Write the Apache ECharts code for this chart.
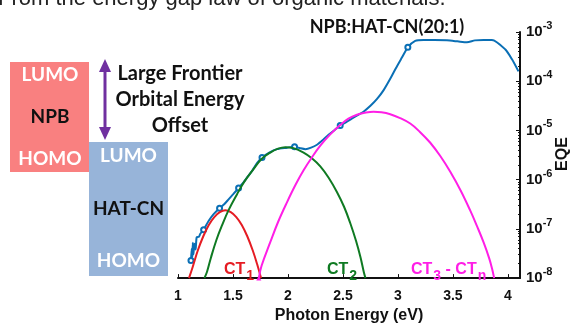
<!DOCTYPE html>
<html><head><meta charset="utf-8">
<script src="https://cdn.jsdelivr.net/npm/echarts@6/dist/echarts.min.js"></script>
<style>html,body{margin:0;padding:0;background:#fff;overflow:hidden}#c{width:571px;height:329px}</style>
</head><body><div id="c"></div>
<script>
// ---- data (photon energy in eV, EQE given as log10 exponent) ----
const blueE   = [1.118,1.125,1.13,1.135,1.14,1.15,1.16,1.17,1.19,1.203,1.233,1.278,1.324,1.378,1.42,1.46,1.50,1.551,1.59,1.627,1.68,1.72,1.764,1.83,1.90,1.991,2.06,2.11,2.16,2.21,2.264,2.32,2.369,2.42,2.475,2.53,2.58,2.635,2.687,2.75,2.81,2.87,2.93,2.98,3.036,3.09,3.157,3.233,3.33,3.445,3.54,3.627,3.70,3.78,3.855,3.975,4.036,4.096];
const blueLog = [-7.64,-7.40,-7.58,-7.28,-7.52,-7.30,-7.42,-7.17,-7.16,-7.10,-7.02,-6.84,-6.70,-6.58,-6.50,-6.40,-6.30,-6.17,-6.07,-5.96,-5.80,-5.66,-5.55,-5.45,-5.38,-5.35,-5.33,-5.36,-5.38,-5.35,-5.29,-5.19,-5.09,-5.00,-4.90,-4.83,-4.76,-4.69,-4.62,-4.50,-4.36,-4.18,-3.95,-3.74,-3.52,-3.31,-3.18,-3.16,-3.16,-3.17,-3.19,-3.21,-3.17,-3.16,-3.16,-3.35,-3.55,-3.80];
const blueMarkE = [1.118,1.233,1.378,1.551,1.764,2.06,2.475,3.09];

const ct1E   = [1.10,1.13,1.18,1.23,1.28,1.33,1.38,1.43,1.48,1.53,1.58,1.63,1.68,1.72,1.755];
const ct1Log = [-8.0,-7.80,-7.44,-7.15,-6.92,-6.76,-6.66,-6.62,-6.66,-6.76,-6.92,-7.15,-7.44,-7.72,-8.0];

const ct2E   = [1.24,1.264,1.30,1.35,1.40,1.46,1.536,1.60,1.688,1.76,1.839,1.91,1.975,2.05,2.142,2.22,2.294,2.37,2.445,2.51,2.566,2.62,2.66,2.69,2.705];
const ct2Log = [-8.0,-7.87,-7.58,-7.22,-6.93,-6.62,-6.30,-6.05,-5.78,-5.58,-5.45,-5.37,-5.34,-5.36,-5.45,-5.57,-5.73,-5.96,-6.25,-6.55,-6.88,-7.25,-7.58,-7.88,-8.0];

const ct3E   = [1.735,1.76,1.839,1.91,1.991,2.07,2.142,2.22,2.294,2.38,2.475,2.55,2.627,2.70,2.778,2.85,2.93,3.02,3.112,3.20,3.294,3.385,3.476,3.57,3.658,3.72,3.78,3.83,3.855,3.875];
const ct3Log = [-8.0,-7.75,-7.27,-6.86,-6.46,-6.10,-5.81,-5.54,-5.31,-5.09,-4.89,-4.76,-4.68,-4.64,-4.62,-4.63,-4.67,-4.75,-4.86,-5.03,-5.25,-5.52,-5.84,-6.22,-6.63,-6.95,-7.28,-7.60,-7.80,-8.0];

const xTickLabels = ['1','1.5','2','2.5','3','3.5','4'];
const yTickExponents = [-8,-7,-6,-5,-4,-3];

// ---- build ----
const toPairs = (E, L) => E.map((e, i) => [e, Math.pow(10, L[i])]);
const blueData = blueE.map((e, i) => {
  const item = { value: [e, Math.pow(10, blueLog[i])] };
  if (blueMarkE.includes(e)) { item.symbol = 'emptyCircle'; item.symbolSize = 5; }
  return item;
});
const ct3Data = toPairs(ct3E, ct3Log);
ct3Data[0] = { value: ct3Data[0], symbol: 'triangle', symbolSize: 5 };

const AX = 'Liberation Sans';
const DG = 'Lato';
const chart = echarts.init(document.getElementById('c'), null, { renderer: 'canvas' });

const subRich = (color) => ({
  m: { fontFamily: AX, fontWeight: 'bold', fontSize: 16, fill: color, lineHeight: 16 },
  s: { fontFamily: AX, fontWeight: 'bold', fontSize: 14, fill: color, padding: [13, 0, 0, 1] }
});
const dText = (x, y, text, size, fill) => ({
  type: 'text', x: x, y: y,
  style: { text: text, fontFamily: DG, fontWeight: 'bold', fontSize: size, fill: fill, textAlign: 'center', textVerticalAlign: 'middle' }
});

chart.setOption({
  animation: false,
  title: {
    text: 'NPB:HAT-CN(20:1)', left: 382, top: 13, textAlign: 'center',
    textStyle: { fontFamily: DG, fontWeight: 'bold', fontSize: 18, color: '#111' }
  },
  grid: { left: 178, right: 51, top: 32, bottom: 42 },
  xAxis: {
    type: 'value', min: 1, max: 4.11, interval: 0.5,
    name: 'Photon Energy (eV)', nameLocation: 'middle', nameGap: 27,
    nameTextStyle: { fontFamily: AX, fontWeight: 'bold', fontSize: 16, color: '#111' },
    axisLine: { show: true, lineStyle: { color: '#111', width: 2 } },
    axisTick: { show: true, inside: true, length: 4, lineStyle: { color: '#111', width: 1 } },
    axisLabel: {
      margin: 11, fontFamily: AX, fontWeight: 'bold', fontSize: 14, color: '#111',
      formatter: (v) => { const i = Math.round((v - 1) / 0.5); return xTickLabels[i] !== undefined && Math.abs(v - (1 + i * 0.5)) < 1e-6 ? xTickLabels[i] : ''; }
    },
    splitLine: { show: false }
  },
  yAxis: {
    type: 'log', logBase: 10, min: 1e-8, max: 1e-3, position: 'right',
    axisLine: { show: true, lineStyle: { color: '#111', width: 2 } },
    axisTick: { show: true, inside: true, length: 4, lineStyle: { color: '#111', width: 1 } },
    minorTick: { show: true, splitNumber: 9, length: 2, lineStyle: { color: '#111', width: 1 } },
    axisLabel: {
      margin: 6, color: '#111',
      formatter: (v) => {
        const e = Math.round(Math.log10(v));
        return yTickExponents.includes(e) ? '{b|10}{s|' + e + '}' : '';
      },
      rich: {
        b: { fontFamily: AX, fontWeight: 'bold', fontSize: 15, color: '#111' },
        s: { fontFamily: AX, fontWeight: 'bold', fontSize: 11, color: '#111', padding: [0, 0, 12, 0] }
      }
    },
    splitLine: { show: false },
    minorSplitLine: { show: false }
  },
  series: [
    { type: 'line', name: 'EQE', data: blueData, symbol: 'none', smooth: 0.25,
      lineStyle: { color: '#0a6fb5', width: 2 }, itemStyle: { color: '#0a6fb5', borderWidth: 1.3 }, z: 2 },
    { type: 'line', name: 'CT1', data: toPairs(ct1E, ct1Log), symbol: 'none', smooth: 0.4,
      lineStyle: { color: '#e51c23', width: 2 }, z: 3 },
    { type: 'line', name: 'CT2', data: toPairs(ct2E, ct2Log), symbol: 'none', smooth: 0.4,
      lineStyle: { color: '#0f7a22', width: 2 }, z: 3 },
    { type: 'line', name: 'CT3-CTn', data: ct3Data, symbol: 'none', smooth: 0.4,
      lineStyle: { color: '#ff1ee6', width: 2 }, itemStyle: { color: '#ff1ee6' }, z: 3 }
  ],
  graphic: [
    // cropped caption at the very top
    { type: 'text', x: -2, y: -1, style: { text: 'From the energy gap law of organic materials.', fontFamily: 'Liberation Sans', fontSize: 22, fill: '#222', textVerticalAlign: 'middle' } },
    // energy level boxes
    { type: 'rect', shape: { x: 10, y: 62, width: 79, height: 110 }, style: { fill: '#f98080' } },
    { type: 'rect', shape: { x: 89, y: 142, width: 79, height: 134 }, style: { fill: '#97b4d9' } },
    dText(50, 75, 'LUMO', 19, '#fff'),
    dText(50, 117, 'NPB', 19, '#111'),
    dText(50, 159, 'HOMO', 19, '#fff'),
    dText(128.5, 156, 'LUMO', 19, '#fff'),
    dText(128.5, 209, 'HAT-CN', 19, '#111'),
    dText(128.5, 261, 'HOMO', 19, '#fff'),
    // double arrow
    { type: 'line', shape: { x1: 105, y1: 68, x2: 105, y2: 131 }, style: { stroke: '#7030a0', lineWidth: 3 } },
    { type: 'polygon', shape: { points: [[105, 59], [99, 72], [111, 72]] }, style: { fill: '#7030a0' } },
    { type: 'polygon', shape: { points: [[105, 140], [99, 127], [111, 127]] }, style: { fill: '#7030a0' } },
    dText(180, 74, 'Large Frontier', 20, '#111'),
    dText(180, 100, 'Orbital Energy', 20, '#111'),
    dText(180, 126, 'Offset', 20, '#111'),
    // CT labels
    { type: 'text', x: 224, y: 270, z: 10, style: { text: '{m|CT}{s|1}', rich: subRich('#e51c23'), textVerticalAlign: 'middle' } },
    { type: 'text', x: 327, y: 270, z: 10, style: { text: '{m|CT}{s|2}', rich: subRich('#0f7a22'), textVerticalAlign: 'middle' } },
    { type: 'text', x: 411, y: 270, z: 10, style: { text: '{m|CT}{s|3}{m| - CT}{s|n}', rich: subRich('#ff1ee6'), textVerticalAlign: 'middle' } },
    // y axis title
    { type: 'text', x: 563, y: 154, rotation: Math.PI / 2, style: { text: 'EQE', fontFamily: AX, fontWeight: 'bold', fontSize: 16, fill: '#111', textAlign: 'center', textVerticalAlign: 'middle' } }
  ]
});
</script></body></html>
